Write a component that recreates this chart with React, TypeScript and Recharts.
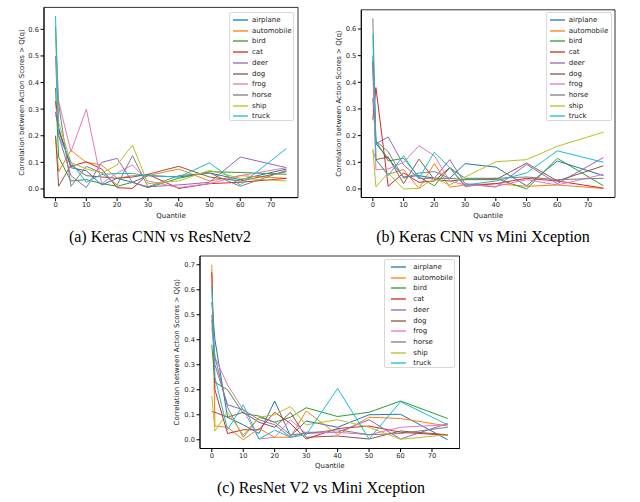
import { Label, Line, LineChart, ReferenceArea, XAxis, YAxis } from "recharts"

const quantiles = [0, 1, 5, 10, 15, 20, 25, 30, 40, 50, 60, 75]
const classes = ["airplane", "automobile", "bird", "cat", "deer", "dog", "frog", "horse", "ship", "truck"]
const colors = ["#1f77b4", "#ff7f0e", "#2ca02c", "#d62728", "#9467bd", "#8c564b", "#e377c2", "#7f7f7f", "#bcbd22", "#17becf"]
const xTicks = [0, 10, 20, 30, 40, 50, 60, 70]

// (a) Keras CNN vs ResNetv2, one row per class
const kerasVsResnet = [
  [0.29, 0.23, 0.08, 0.068, 0.015, 0.04, 0.025, 0.05, 0.045, 0.06, 0.035, 0.075],
  [0.2, 0.065, 0.145, 0.1, 0.09, 0.04, 0.05, 0.05, 0.075, 0.03, 0.05, 0.04],
  [0.38, 0.12, 0.03, 0.035, 0.02, 0.01, 0.025, 0.005, 0.04, 0.065, 0.062, 0.055],
  [0.33, 0.22, 0.085, 0.102, 0.075, 0.005, 0.002, 0.055, 0.002, 0.02, 0.025, 0.04],
  [0.5, 0.2, 0.05, 0.005, 0.1, 0.115, 0.025, 0.008, 0.015, 0.025, 0.12, 0.08],
  [0.2, 0.01, 0.09, 0.05, 0.045, 0.04, 0.045, 0.055, 0.085, 0.045, 0.03, 0.065],
  [0.27, 0.33, 0.14, 0.3, 0.02, 0.06, 0.09, 0.03, 0.005, 0.02, 0.05, 0.08],
  [0.61, 0.32, 0.01, 0.085, 0.06, 0.015, 0.125, 0.008, 0.05, 0.06, 0.01, 0.07],
  [0.58, 0.25, 0.1, 0.075, 0.06, 0.09, 0.165, 0.02, 0.03, 0.07, 0.04, 0.03],
  [0.65, 0.2, 0.1, 0.025, 0.055, 0.058, 0.058, 0.05, 0.045, 0.098, 0.015, 0.152],
]

// (b) Keras CNN vs Mini Xception
const kerasVsXception = [
  [0.34, 0.17, 0.115, 0.045, 0.05, 0.04, 0.04, 0.095, 0.082, 0.012, 0.105, 0.05],
  [0.145, 0.11, 0.055, 0.073, 0.002, 0.095, 0.007, 0.015, 0.02, 0.01, 0.015, 0.002],
  [0.5, 0.18, 0.105, 0.115, 0.045, 0.012, 0.08, 0.04, 0.04, 0.0, 0.115, 0.012],
  [0.26, 0.38, 0.01, 0.06, 0.025, 0.03, 0.08, 0.01, 0.02, 0.04, 0.03, 0.003],
  [0.47, 0.17, 0.195, 0.09, 0.04, 0.04, 0.11, 0.02, 0.007, 0.092, 0.02, 0.118],
  [0.48, 0.11, 0.12, 0.02, 0.112, 0.035, 0.03, 0.035, 0.035, 0.097, 0.03, 0.087],
  [0.44, 0.072, 0.075, 0.1, 0.162, 0.125, 0.03, 0.015, 0.01, 0.035, 0.015, 0.055],
  [0.64, 0.18, 0.14, 0.04, 0.06, 0.065, 0.04, 0.035, 0.04, 0.045, 0.035, 0.04],
  [0.15, 0.008, 0.06, 0.0, 0.002, 0.04, 0.015, 0.045, 0.102, 0.11, 0.16, 0.213],
  [0.58, 0.11, 0.05, 0.125, 0.04, 0.138, 0.08, 0.015, 0.03, 0.06, 0.143, 0.1],
]

// (c) ResNet V2 vs Mini Xception
const resnetVsXception = [
  [0.55, 0.4, 0.09, 0.06, 0.025, 0.155, 0.015, 0.075, 0.05, 0.1, 0.102, 0.0],
  [0.7, 0.055, 0.05, 0.0, 0.045, 0.01, 0.01, 0.115, 0.02, 0.09, 0.085, 0.055],
  [0.38, 0.23, 0.2, 0.105, 0.095, 0.07, 0.09, 0.128, 0.093, 0.11, 0.155, 0.085],
  [0.67, 0.2, 0.025, 0.04, 0.04, 0.11, 0.065, 0.003, 0.045, 0.055, 0.03, 0.018],
  [0.48, 0.3, 0.14, 0.12, 0.08, 0.06, 0.01, 0.03, 0.03, 0.08, 0.003, 0.065],
  [0.112, 0.11, 0.09, 0.11, 0.07, 0.05, 0.11, 0.01, 0.015, 0.003, 0.035, 0.02],
  [0.45, 0.33, 0.22, 0.12, 0.003, 0.01, 0.08, 0.025, 0.03, 0.02, 0.05, 0.06],
  [0.5, 0.33, 0.13, 0.01, 0.09, 0.07, 0.02, 0.025, 0.04, 0.02, 0.025, 0.05],
  [0.175, 0.035, 0.11, 0.02, 0.09, 0.1, 0.133, 0.06, 0.08, 0.05, 0.002, 0.02],
  [0.615, 0.25, 0.04, 0.14, 0.003, 0.038, 0.01, 0.02, 0.205, 0.003, 0.152, 0.06],
]

const yTicksAB = [0, 0.1, 0.2, 0.3, 0.4, 0.5, 0.6]
const yTicksC = [0, 0.1, 0.2, 0.3, 0.4, 0.5, 0.6, 0.7]

const font = "DejaVu Sans, sans-serif"
const tickStyle = { fontSize: 6.7, fill: "#222", fontFamily: font }

function toRows(series: number[][]) {
  return quantiles.map((q, i) => {
    const row: Record<string, number> = { q }
    classes.forEach((c, k) => (row[c] = series[k][i]))
    return row
  })
}

function Legend({ left, top, width, lineX, textX }: any) {
  return (
    <div
      style={{
        position: "absolute",
        left,
        top,
        width,
        height: 109,
        border: "1px solid #d8d8d8",
        borderRadius: 2,
        background: "rgba(255,255,255,0.85)",
        boxSizing: "border-box",
        fontFamily: font,
        fontSize: 7,
        color: "#222",
      }}
    >
      {classes.map((c, k) => (
        <div key={c} style={{ position: "absolute", top: Math.round(2 + k * 10.7), left: 0, height: 10, width: "100%" }}>
          <svg style={{ position: "absolute", left: lineX, top: 3 }} width={16} height={4}>
            <line x1={0} x2={15} y1={2} y2={2} stroke={colors[k]} strokeWidth={1.3} />
          </svg>
          <div style={{ position: "absolute", left: textX, top: 1, lineHeight: "8px", whiteSpace: "nowrap" }}>{c}</div>
        </div>
      ))}
    </div>
  )
}

function Panel({ series, left, top, width, height, marginTop, marginRight, yWidth, xHeight, yDomain, yTicks, yLabelOffset, legend }: any) {
  const data = toRows(series)
  return (
    <div style={{ position: "absolute", left, top, width, height }}>
      <LineChart
        width={width}
        height={height}
        data={data}
        margin={{ top: marginTop, right: marginRight, bottom: 0, left: 0 }}
        style={{ fontFamily: font }}
      >
        <XAxis
          dataKey="q"
          type="number"
          domain={[-3.75, 78.75]}
          ticks={xTicks}
          allowDataOverflow
          height={xHeight}
          tick={tickStyle}
          tickSize={3.5}
          tickMargin={1.5}
          stroke="#000"
          tickLine={{ stroke: "#000" }}
        >
          <Label value="Quantile" position="insideBottom" offset={7} style={{ fontSize: 7, fill: "#222", fontFamily: font }} />
        </XAxis>
        <YAxis
          type="number"
          domain={yDomain}
          ticks={yTicks}
          allowDataOverflow
          width={yWidth}
          tick={tickStyle}
          tickSize={3.5}
          tickMargin={1.5}
          stroke="#000"
          tickLine={{ stroke: "#000" }}
          tickFormatter={(v: number) => v.toFixed(1)}
        >
          <Label
            value="Correlation between Action Scores > Q(q)"
            angle={-90}
            position="insideLeft"
            offset={yLabelOffset}
            style={{ fontSize: 7, fill: "#222", fontFamily: font, textAnchor: "middle" }}
          />
        </YAxis>
        <ReferenceArea x1={-3.75} x2={78.75} y1={yDomain[0]} y2={yDomain[1]} fill="none" stroke="#000" strokeWidth={0.8} />
        {classes.map((c, k) => (
          <Line
            key={c}
            dataKey={c}
            type="linear"
            stroke={colors[k]}
            strokeWidth={1}
            dot={false}
            isAnimationActive={false}
          />
        ))}
      </LineChart>
      <Legend {...legend} />
    </div>
  )
}

const captionStyle = {
  position: "absolute" as const,
  fontFamily: "Liberation Serif, Times New Roman, serif",
  fontSize: 16,
  color: "#000",
  whiteSpace: "nowrap" as const,
  transform: "translateX(-50%)",
}

export default function App() {
  return (
    <div style={{ position: "absolute", left: 0, top: 0, width: 640, height: 502, background: "#fff", overflow: "hidden" }}>
      <Panel
        series={kerasVsResnet}
        left={0}
        top={0}
        width={310}
        height={225}
        marginTop={7.4}
        marginRight={12}
        yWidth={44}
        xHeight={27.4}
        yDomain={[-0.0325, 0.6825]}
        yTicks={yTicksAB}
        yLabelOffset={22}
        legend={{ left: 229, top: 12, width: 65, lineX: 3, textX: 22 }}
      />
      <Panel
        series={kerasVsXception}
        left={320}
        top={0}
        width={310}
        height={225}
        marginTop={9.8}
        marginRight={15}
        yWidth={41.3}
        xHeight={27.5}
        yDomain={[-0.032, 0.672]}
        yTicks={yTicksAB}
        yLabelOffset={18.3}
        legend={{ left: 225.7, top: 12, width: 66, lineX: 3, textX: 22 }}
      />
      <Panel
        series={resnetVsXception}
        left={150}
        top={250}
        width={320}
        height={225}
        marginTop={6}
        marginRight={10.5}
        yWidth={50}
        xHeight={26.5}
        yDomain={[-0.035, 0.735]}
        yTicks={yTicksC}
        yLabelOffset={26.7}
        legend={{ left: 234.3, top: 9, width: 71, lineX: 5.5, textX: 28 }}
      />
      <div style={{ ...captionStyle, left: 160, top: 228 }}>(a) Keras CNN vs ResNetv2</div>
      <div style={{ ...captionStyle, left: 483, top: 228 }}>(b) Keras CNN vs Mini Xception</div>
      <div style={{ ...captionStyle, left: 321, top: 479 }}>(c) ResNet V2 vs Mini Xception</div>
    </div>
  )
}
